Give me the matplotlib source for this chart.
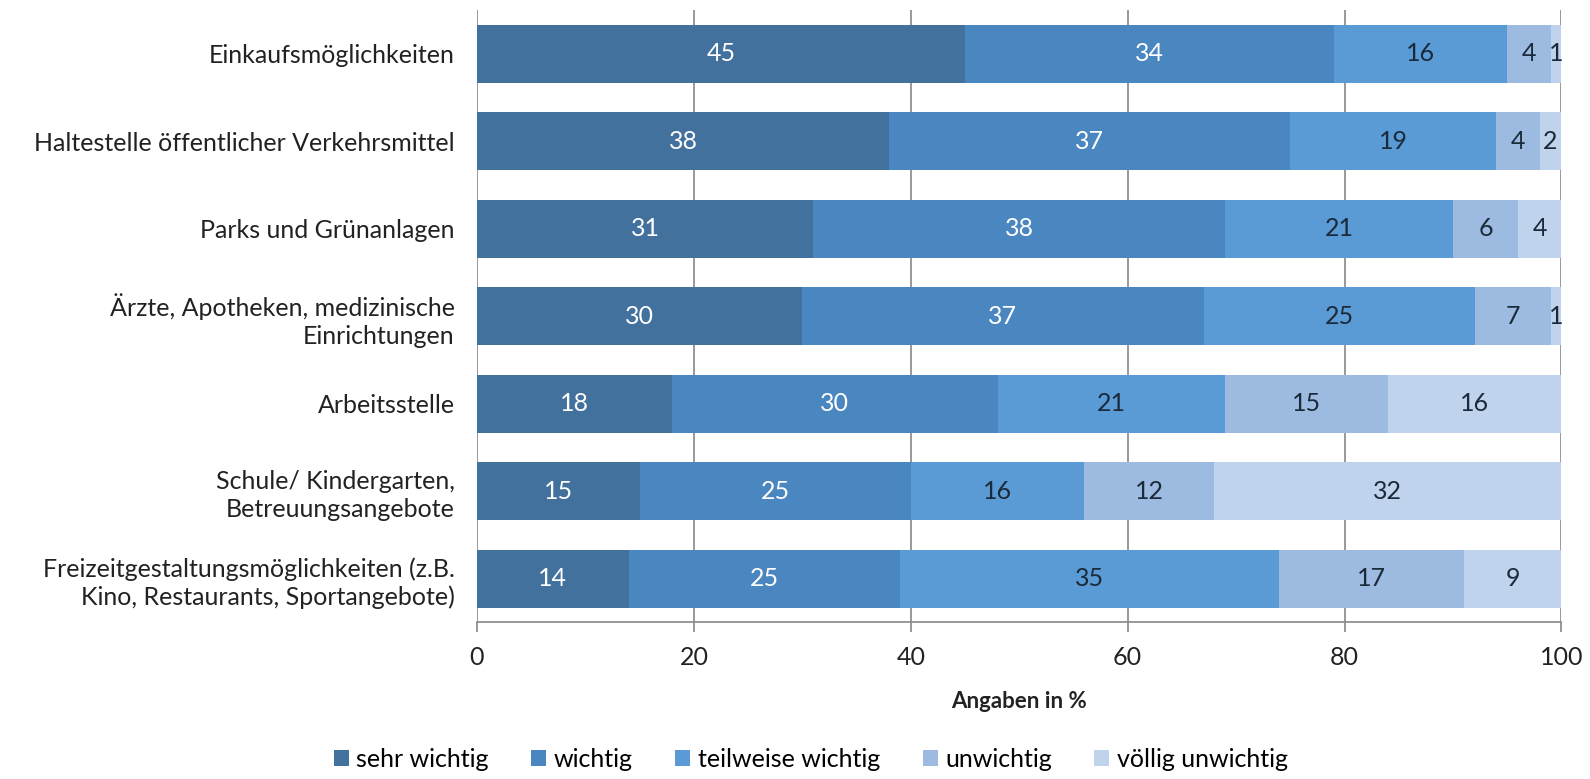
import matplotlib
matplotlib.use("Agg")
import matplotlib.pyplot as plt
import numpy as np

plt.rcParams['font.family'] = ['Lato', 'DejaVu Sans']

categories = [
    "Einkaufsmöglichkeiten",
    "Haltestelle öffentlicher Verkehrsmittel",
    "Parks und Grünanlagen",
    "Ärzte, Apotheken, medizinische\nEinrichtungen",
    "Arbeitsstelle",
    "Schule/ Kindergarten,\nBetreuungsangebote",
    "Freizeitgestaltungsmöglichkeiten (z.B.\nKino, Restaurants, Sportangebote)",
]
series_names = ["sehr wichtig", "wichtig", "teilweise wichtig", "unwichtig", "völlig unwichtig"]
sehr_wichtig = [45, 38, 31, 30, 18, 15, 14]
wichtig = [34, 37, 38, 37, 30, 25, 25]
teilweise_wichtig = [16, 19, 21, 25, 21, 16, 35]
unwichtig = [4, 4, 6, 7, 15, 12, 17]
voellig_unwichtig = [1, 2, 4, 1, 16, 32, 9]
xticks = [0, 20, 40, 60, 80, 100]

series = [sehr_wichtig, wichtig, teilweise_wichtig, unwichtig, voellig_unwichtig]
colors = ["#41719C", "#4A86BF", "#5B9BD5", "#9DBBE0", "#BFD3EC"]
label_colors = ["white", "white", "#1a2a3a", "#1a2a3a", "#1a2a3a"]

fig = plt.figure(figsize=(15.9, 7.79), dpi=100)
ax = fig.add_axes([0.300, 0.201, 0.682, 0.786])

y = np.arange(len(categories))
left = np.zeros(len(categories))
for vals, name, c, lc in zip(series, series_names, colors, label_colors):
    vals = np.array(vals, dtype=float)
    ax.barh(y, vals, left=left, height=0.66, color=c, label=name, zorder=3)
    for yi, l, v in zip(y, left, vals):
        ax.text(l + v / 2, yi, f"{int(v)}", ha="center", va="center",
                color=lc, fontsize=18, zorder=4)
    left += vals

ax.set_ylim(len(categories) - 0.5, -0.5)
ax.set_xlim(0, 100)
ax.set_xticks(xticks)
ax.set_xticklabels([str(t) for t in xticks], fontsize=18, color="#222222")
ax.set_yticks(y)
ax.set_yticklabels(categories, fontsize=18, color="#222222", ha="right", multialignment="right",
                   linespacing=1.25)
ax.tick_params(axis="y", length=0, pad=16)
ax.tick_params(axis="x", length=7, color="#888888", width=1.2, pad=10)
ax.grid(axis="x", color="#888888", linewidth=1.2, zorder=0)
for s in ["top", "right", "left"]:
    ax.spines[s].set_visible(False)
ax.spines["bottom"].set_color("#888888")
ax.spines["bottom"].set_linewidth(1.2)
ax.set_xlabel("Angaben in %", fontsize=16, fontweight="bold", labelpad=16, color="#222222")

handles, labels = ax.get_legend_handles_labels()
fig.legend(handles, labels, loc="center", bbox_to_anchor=(0.51, 0.025), ncol=5,
           frameon=False, fontsize=18, handlelength=0.6, handleheight=0.6,
           handletextpad=0.3, columnspacing=1.7)

fig.savefig("out.png", dpi=100)
